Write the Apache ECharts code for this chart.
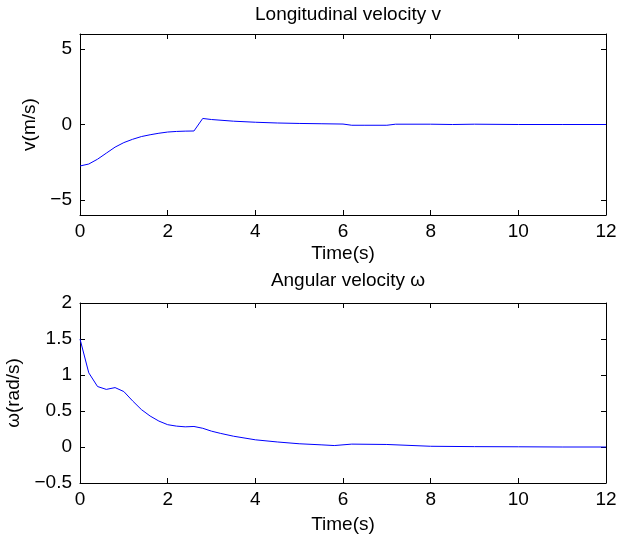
<!DOCTYPE html>
<html>
<head>
<meta charset="utf-8">
<script src="https://cdn.jsdelivr.net/npm/echarts@6/dist/echarts.min.js"></script>
<style>html,body{margin:0;padding:0;background:#fff;}#c{width:619px;height:538px;}</style>
</head>
<body>
<div id="c"></div>
<script>
// Longitudinal velocity v
var tV = [0, 0.2, 0.4, 0.6, 0.8, 1.0, 1.2, 1.4, 1.6, 1.8, 2.0, 2.2, 2.4, 2.6, 2.8, 3.0, 3.5, 4, 4.5, 5, 5.5, 6, 6.2, 6.5, 7, 7.2, 8, 8.5, 9, 10, 11, 12];
var vVals = [-2.75, -2.62, -2.3, -1.9, -1.5, -1.2, -0.98, -0.8, -0.68, -0.58, -0.5, -0.46, -0.44, -0.43, 0.4, 0.33, 0.22, 0.15, 0.1, 0.07, 0.05, 0.03, -0.05, -0.05, -0.05, 0.02, 0.02, 0.0, 0.02, 0.0, 0.0, 0.0];
// Angular velocity omega
var tW = [0, 0.2, 0.4, 0.6, 0.8, 1.0, 1.2, 1.4, 1.6, 1.8, 2.0, 2.2, 2.4, 2.6, 2.8, 3.0, 3.2, 3.5, 4, 4.5, 5, 5.5, 5.8, 6.2, 7, 8, 9, 10, 11, 12];
var wVals = [1.5, 1.03, 0.84, 0.80, 0.825, 0.77, 0.64, 0.52, 0.43, 0.36, 0.31, 0.29, 0.28, 0.285, 0.26, 0.22, 0.19, 0.15, 0.1, 0.07, 0.045, 0.03, 0.02, 0.04, 0.035, 0.01, 0.005, 0.003, 0.0, 0.0];
var vTicks = [-5, 0, 5];
var titles = ['Longitudinal velocity v', 'Angular velocity \u03c9'];
var yNames = ['v(m/s)', '\u03c9(rad/s)'];
var xName = 'Time(s)';

var FONT = 'Liberation Sans';
var FS = 19;
function pair(t, v) { return t.map(function (x, i) { return [x, v[i]]; }); }
function fmt(v) { return String(v).replace('-', '\u2212'); }

var tick = { show: true, inside: true, length: 5, lineStyle: { color: '#000', width: 1 } };
var line = { show: true, onZero: false, lineStyle: { color: '#000', width: 1 } };
var lbl = { color: '#000', fontFamily: FONT, fontSize: FS };

function xAxes(g) {
  return [
    { type: 'value', gridIndex: g, min: 0, max: 12, interval: 2, position: 'bottom',
      axisLine: line, axisTick: tick, splitLine: { show: false },
      axisLabel: Object.assign({ margin: 7 }, lbl),
      name: xName, nameLocation: 'middle', nameGap: g === 0 ? 29 : 32,
      nameTextStyle: { color: '#000', fontFamily: FONT, fontSize: FS } },
    { type: 'value', gridIndex: g, min: 0, max: 12, interval: 2, position: 'top',
      axisLine: line, axisTick: tick, splitLine: { show: false }, axisLabel: { show: false } }
  ];
}

var option = {
  animation: false,
  backgroundColor: '#fff',
  title: [
    { text: titles[0], left: 343, textAlign: 'center', top: 0,
      textStyle: { color: '#000', fontFamily: FONT, fontSize: FS, fontWeight: 'normal' } },
    { text: titles[1], left: 343, textAlign: 'center', top: 266,
      textStyle: { color: '#000', fontFamily: FONT, fontSize: FS, fontWeight: 'normal' } }
  ],
  grid: [
    { left: 80, top: 34, width: 526, height: 181, containLabel: false, outerBoundsMode: 'none' },
    { left: 80, top: 303, width: 526, height: 180, containLabel: false, outerBoundsMode: 'none' }
  ],
  xAxis: xAxes(0).concat(xAxes(1)),
  yAxis: [
    { type: 'value', gridIndex: 0, min: -6, max: 6, position: 'left',
      axisLine: line, axisTick: Object.assign({ customValues: vTicks }, tick), splitLine: { show: false },
      axisLabel: Object.assign({ margin: 8, customValues: vTicks, formatter: fmt }, lbl),
      name: yNames[0], nameLocation: 'middle', nameGap: 34,
      nameTextStyle: { color: '#000', fontFamily: FONT, fontSize: FS } },
    { type: 'value', gridIndex: 0, min: -6, max: 6, position: 'right',
      axisLine: line, axisTick: Object.assign({ customValues: vTicks }, tick), splitLine: { show: false },
      axisLabel: { show: false } },
    { type: 'value', gridIndex: 1, min: -0.5, max: 2, interval: 0.5, position: 'left',
      axisLine: line, axisTick: tick, splitLine: { show: false },
      axisLabel: Object.assign({ margin: 8, formatter: fmt }, lbl),
      name: yNames[1], nameLocation: 'middle', nameGap: 47,
      nameTextStyle: { color: '#000', fontFamily: FONT, fontSize: FS } },
    { type: 'value', gridIndex: 1, min: -0.5, max: 2, interval: 0.5, position: 'right',
      axisLine: line, axisTick: tick, splitLine: { show: false }, axisLabel: { show: false } }
  ],
  series: [
    { type: 'line', xAxisIndex: 0, yAxisIndex: 0, data: pair(tV, vVals), showSymbol: false,
      lineStyle: { color: '#0000ff', width: 1 }, itemStyle: { color: '#0000ff' } },
    { type: 'line', xAxisIndex: 2, yAxisIndex: 2, data: pair(tW, wVals), showSymbol: false,
      lineStyle: { color: '#0000ff', width: 1 }, itemStyle: { color: '#0000ff' } }
  ]
};
echarts.init(document.getElementById('c')).setOption(option);
</script>
</body>
</html>
